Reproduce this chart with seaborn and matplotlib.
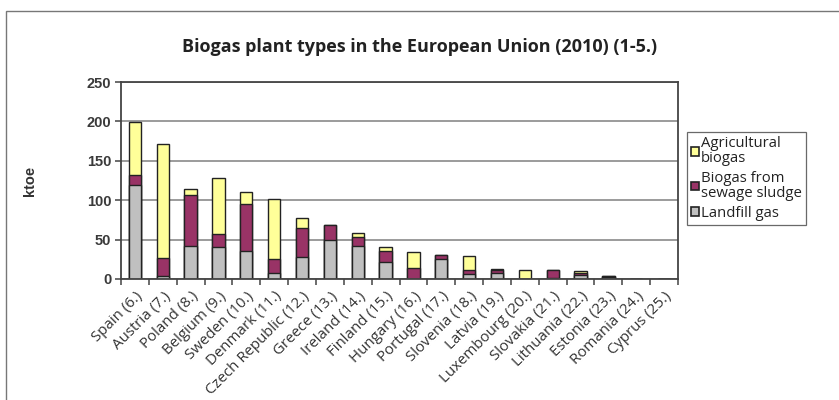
import matplotlib
matplotlib.use("Agg")
import matplotlib.pyplot as plt
import seaborn as sns
import pandas as pd
import numpy as np
from matplotlib.patches import Rectangle, Patch

countries = ["Spain (6.)", "Austria (7.)", "Poland (8.)", "Belgium (9.)", "Sweden (10.)",
             "Denmark (11.)", "Czech Republic (12.)", "Greece (13.)", "Ireland (14.)",
             "Finland (15.)", "Hungary (16.)", "Portugal (17.)", "Slovenia (18.)",
             "Latvia (19.)", "Luxembourg (20.)", "Slovakia (21.)", "Lithuania (22.)",
             "Estonia (23.)", "Romania (24.)", "Cyprus (25.)"]
landfill = [119, 4, 42, 41, 35, 7, 28, 50, 42, 22, 0, 26, 6, 7, 0, 1, 5, 3, 0, 0]
sewage = [13, 23, 64, 16, 60, 19, 37, 18, 11, 13, 14, 4, 5, 5, 0, 10, 2, 1, 0, 0]
agricultural = [67, 144, 8, 71, 15, 76, 12, 0, 5, 5, 20, 0, 18, 1, 12, 0, 3, 0, 0, 0]

series_names = ["Agricultural\nbiogas", "Biogas from\nsewage sludge", "Landfill gas"]
colors = {"Agricultural\nbiogas": "#FFFF99", "Biogas from\nsewage sludge": "#993366",
          "Landfill gas": "#C0C0C0"}

df = pd.DataFrame({"country": countries, "landfill": landfill,
                   "sewage": sewage, "agri": agricultural})
df["lvl1"] = df["landfill"]
df["lvl2"] = df["landfill"] + df["sewage"]
df["lvl3"] = df["lvl2"] + df["agri"]

sns.set_theme(style="white")
plt.rcParams["font.family"] = ["Open Sans", "DejaVu Sans"]

fig = plt.figure(figsize=(8.39, 4.0), dpi=100)
ax = fig.add_axes([121/839, 121/400, 557/839, 197/400])

for col, name in [("lvl3", series_names[0]), ("lvl2", series_names[1]), ("lvl1", series_names[2])]:
    sns.barplot(data=df, x="country", y=col, color=colors[name], width=0.44,
                edgecolor="#222222", linewidth=1.0, ax=ax, saturation=1)

ax.set_ylim(0, 250)
ax.set_xlim(-0.5, len(countries) - 0.5)
ax.set_yticks([0, 50, 100, 150, 200, 250])
ax.set_yticklabels(["0", "50", "100", "150", "200", "250"],
                   fontfamily="Liberation Sans", fontweight="bold", fontsize=10.5, color="#3a3a3a")
ax.yaxis.grid(True, color="#808080", linewidth=1.1)
ax.set_axisbelow(True)
for s in ax.spines.values():
    s.set_color("#444444")
    s.set_linewidth(1.3)

ax.set_xticks(range(len(countries)))
ax.set_xticklabels(countries, rotation=45, ha="right", rotation_mode="anchor",
                   fontsize=10.8, color="#333333")
ax.tick_params(axis="x", length=0, pad=7)
ax.set_xticks(np.arange(-0.5, len(countries), 1.0), minor=True)
ax.tick_params(axis="x", which="minor", length=4, width=1.1, color="#444444", bottom=True, direction="out")
ax.tick_params(axis="y", length=4, width=1.1, color="#444444", left=True, direction="out", pad=3)
ax.set_xlabel("")
ax.set_ylabel("ktoe", fontfamily="Liberation Sans", fontweight="bold", fontsize=10.5,
              color="#333333", labelpad=36)

fig.suptitle("Biogas plant types in the European Union (2010) (1-5.)", x=420/839, y=1 - 47/400,
             va="center", fontsize=13, fontweight="bold", color="#222222")

handles = [Patch(facecolor=colors[n], edgecolor="#222222", linewidth=1.2, label=n)
           for n in series_names]
leg = fig.legend(handles=handles, loc="upper left", bbox_to_anchor=(687/839, 1 - 132/400),
                 frameon=True, fancybox=False, fontsize=10.7, handlelength=0.5,
                 handleheight=0.5, handletextpad=0.15, labelspacing=0.35, borderpad=0.3,
                 borderaxespad=0)
leg.get_frame().set_edgecolor("#444444")
leg.get_frame().set_linewidth(0.9)
for t in leg.get_texts():
    t.set_color("#222222")
    t.set_linespacing(0.95)

fig.patches.append(Rectangle((6/839, -0.05), 1.0, 1 - 11/400 + 0.05, transform=fig.transFigure,
                             fill=False, edgecolor="#777777", linewidth=1.0))

fig.savefig("out.png", dpi=100)
